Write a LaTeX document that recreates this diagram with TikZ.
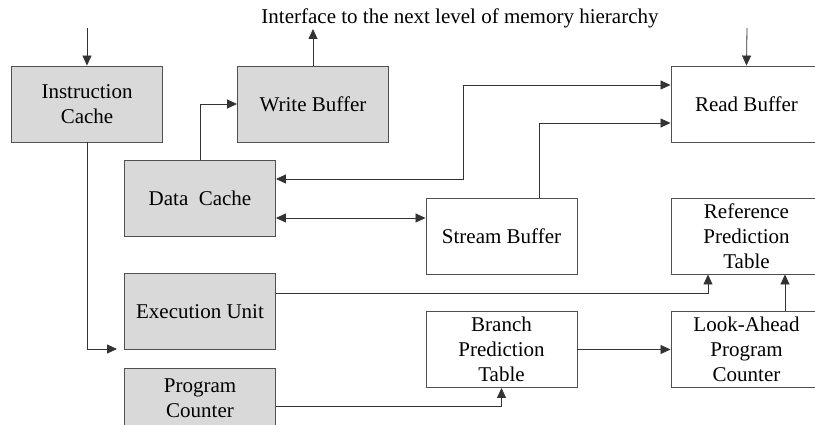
\documentclass[tikz,border=0pt]{standalone}
\usepackage{fontspec}
\setmainfont{Liberation Serif}
\newfontfamily\tnr{Liberation Serif}
\usetikzlibrary{arrows.meta,calc}
\definecolor{boxfill}{HTML}{D9D9D9}
\definecolor{boxedge}{HTML}{505050}
\begin{document}
\begin{tikzpicture}[x=1pt,y=-1pt,
  box/.style={draw=boxedge, line width=0.9pt, minimum width=151pt, minimum height=76pt, inner sep=0pt, align=center, font=\tnr\fontsize{21}{25}\selectfont},
  gbox/.style={box, fill=boxfill},
  conn/.style={draw=black!80, line width=0.8pt},
  arr/.style={conn, -{Triangle[length=10pt,width=9pt]}},
  darr/.style={conn, {Triangle[length=10pt,width=9pt]}-{Triangle[length=10pt,width=9pt]}}]
\useasboundingbox (0,0) rectangle (815,425);
\clip (0,0) rectangle (815,425);
% boxes
\node[gbox] (ic) at (87,104) {Instruction\\Cache};
\node[gbox] (wb) at (313,104) {Write Buffer};
\node[box]  (rb) at (746.5,104) {Read Buffer};
\node[gbox] (dc) at (200,198) {Data\ \ Cache};
\node[box]  (sb) at (501.5,236) {Stream Buffer};
\node[box]  (rpt) at (746.5,236) {Reference\\Prediction\\Table};
\node[gbox] (eu) at (200,311.5) {Execution Unit};
\node[box]  (bpt) at (501.5,349.5) {Branch\\Prediction\\Table};
\node[box]  (la) at (746.5,349.5) {Look-Ahead\\Program\\Counter};
\node[gbox, minimum height=60pt] (pc) at (200,398) {Program\\Counter};
% label
\node[font=\tnr\fontsize{21}{25}\selectfont, inner sep=0pt] (iface) at (460,18) {Interface to the next level of memory hierarchy};
% free ends
\coordinate (icin) at (87,28);
\coordinate (rbin) at (747,28);
\coordinate (wbout) at (313,29);
\coordinate (euin) at (117,349);
% connectors
\draw[arr] (icin) -- (ic.north);
\draw[arr] (rbin) -- (rb.north);
\draw[arr] (wb.north) -- (wbout);
\draw[arr] (ic.south) |- (euin);
\draw[arr] (dc.north) |- (wb.west);
\draw[darr] ([yshift=19pt]dc.east) -| (463,85) -- ([yshift=19pt]rb.west);
\draw[arr] ([xshift=37.5pt]sb.north) |- ([yshift=-19pt]rb.west);
\draw[darr] ([yshift=-20pt]dc.east) -- (sb.west |- {$([yshift=-20pt]dc.east)$});
\draw[arr] ([yshift=18.5pt]eu.east) -| ([xshift=-38.5pt]rpt.south);
\draw[arr] ([xshift=38.5pt]la.north) -- ([xshift=38.5pt]rpt.south);
\draw[arr] (bpt.east) -- (la.west);
\draw[arr] ([yshift=-8pt]pc.east) -| (bpt.south);
\end{tikzpicture}
\end{document}
